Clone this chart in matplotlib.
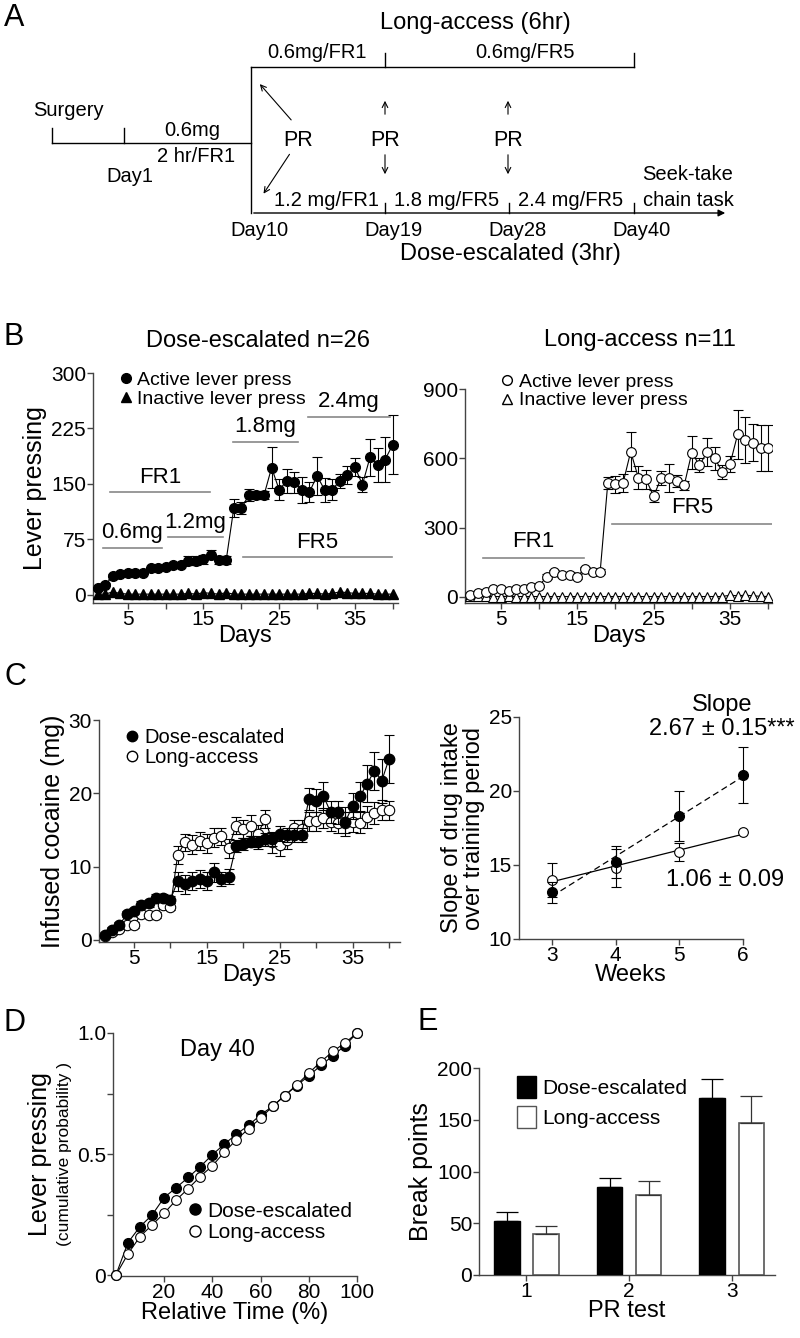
import numpy as np
import matplotlib.pyplot as plt
from matplotlib.lines import Line2D
from matplotlib.patches import Patch

plt.rcParams['font.family'] = ['Liberation Sans', 'DejaVu Sans']
plt.rcParams['axes.linewidth'] = 1.0
plt.rcParams['xtick.major.width'] = 1.0
plt.rcParams['ytick.major.width'] = 1.0

# ---------------- data ----------------
days = np.arange(1, 41)

# B left: dose-escalated lever presses
de_active = [9, 13.5, 25, 28, 30, 30, 30, 36, 37, 38, 40.5, 40.5, 46, 46, 48, 54, 47, 47,
             117, 117, 135, 135, 135, 172, 142, 154, 152, 142, 139, 161, 142, 142, 154, 162,
             173, 149, 186, 176, 183, 203]
de_active_err = [2, 2, 3, 2, 2, 2, 2, 2, 2, 2, 2, 2, 6, 6, 6, 6, 5, 5,
                 12, 8, 8, 6, 6, 28, 14, 16, 14, 18, 14, 26, 16, 14, 10, 12,
                 12, 10, 25, 23, 30, 40]
de_inactive = [1, 1, 4, 2, 1, 1, 1, 1, 1, 1, 1, 1, 2, 1, 3, 2, 1, 3,
               1, 1, 1, 1, 1, 1, 1, 1, 1, 1, 2, 2, 1, 2, 4, 3, 2, 2, 2, 1, 1, 1]

# B right: long-access lever presses
la_active = [9, 16, 23, 33, 33, 27, 33, 33, 45, 48, 88, 106, 96, 96, 88, 120, 110, 110,
             494, 487, 494, 629, 516, 509, 436, 516, 516, 501, 483, 625, 570, 627, 600,
             541, 574, 704, 680, 668, 646, 646]
la_active_err = [5] * 10 + [10] * 8 + [25, 35, 40, 83, 50, 40, 25, 30, 60, 25, 20, 70,
                                      30, 60, 50, 30, 35, 106, 100, 80, 100, 100]
la_inactive = [3, 4, 3, 2, 2, 3, 2, 2, 2, 2, 2, 2, 2, 2, 2, 2, 2, 2,
               2, 2, 2, 2, 2, 2, 2, 2, 2, 2, 2, 2, 2, 2, 2, 2, 8, 5, 8, 5, 3, 2]

# C left: infused cocaine (mg)
de_cocaine = [0.7, 1.4, 2.0, 3.5, 3.9, 4.8, 5.0, 5.7, 5.7, 5.5, 8.0, 7.6, 8.0, 8.3, 8.0,
              9.2, 8.3, 8.6, 12.8, 13.1, 13.4, 13.3, 13.7, 13.7, 14.5, 14.3, 14.3, 14.3,
              19.2, 19.0, 19.6, 17.4, 17.4, 16.1, 18.3, 19.6, 21.3, 23.1, 21.7, 24.7]
de_cocaine_err = [0.3, 0.3, 0.4, 0.4, 0.4, 0.5, 0.5, 0.5, 0.5, 0.5, 1.3, 1.3, 1.2, 1.2, 1.2,
                  1.3, 1.0, 1.0, 0.8, 0.8, 0.8, 0.9, 0.9, 0.9, 1.0, 1.0, 1.0, 1.0,
                  1.5, 1.6, 1.9, 1.5, 1.6, 2.0, 1.8, 2.0, 2.5, 2.6, 3.0, 3.3]
la_cocaine = [0.5, 1.0, 1.5, 2.0, 2.0, 3.5, 3.4, 3.4, 4.8, 4.5, 11.6, 13.3, 13.0, 13.5, 13.2,
              13.9, 14.1, 12.5, 15.6, 15.1, 15.6, 14.5, 16.5, 13.3, 13.0, 13.6, 15.2, 15.1,
              16.2, 16.2, 16.6, 16.1, 15.9, 16.0, 16.1, 16.0, 16.7, 17.3, 17.7, 17.7]
la_cocaine_err = [0.3, 0.3, 0.3, 0.4, 0.4, 0.4, 0.4, 0.4, 0.5, 0.5, 1.2, 1.2, 1.3, 1.2, 1.3,
                  1.3, 1.2, 1.3, 1.2, 1.2, 1.4, 1.2, 1.2, 1.4, 1.6, 1.2, 1.2, 1.2,
                  1.3, 1.3, 1.4, 1.3, 1.3, 1.4, 1.4, 1.4, 1.5, 1.5, 1.4, 1.3]

# C right: weekly slope
weeks = [3, 4, 5, 6]
de_slope = [13.15, 15.2, 18.3, 21.1]
de_slope_err = [0.7, 1.1, 1.7, 1.9]
la_slope = [14.0, 14.8, 15.9, 17.2]
la_slope_err = [1.15, 1.3, 0.6, 0.0]

# D: cumulative lever pressing, day 40
rel_time = np.arange(0, 101, 5)
de_cum = [0, 0.134, 0.2, 0.248, 0.32, 0.361, 0.403, 0.448, 0.497, 0.541, 0.582,
          0.618, 0.662, 0.697, 0.741, 0.783, 0.823, 0.866, 0.906, 0.948, 1.0]
la_cum = [0, 0.087, 0.159, 0.207, 0.255, 0.31, 0.357, 0.407, 0.451, 0.508, 0.559,
          0.604, 0.648, 0.697, 0.741, 0.786, 0.834, 0.881, 0.924, 0.959, 1.0]

# E: break points
pr_tests = [1, 2, 3]
de_bp = [52, 85, 171]
de_bp_err = [9, 9, 18]
la_bp = [40, 77, 147]
la_bp_err = [7, 14, 26]

# A: timeline positions (px) of the schedule days
tl_days = ['Day10', 'Day19', 'Day28', 'Day40']
tl_x = [251, 385, 509, 634]

# ---------------- figure ----------------
W, H = 800, 1338
fig = plt.figure(figsize=(W / 100, H / 100), dpi=100)


def px_axes(x0, y0, x1, y1):
    return fig.add_axes([x0 / W, 1 - y1 / H, (x1 - x0) / W, (y1 - y0) / H])


def style(ax):
    for s in ['top', 'right']:
        ax.spines[s].set_visible(False)
    for s in ['left', 'bottom']:
        ax.spines[s].set_color('#444444')
    ax.tick_params(direction='out', length=4, colors='#444444', labelcolor='black',
                   labelsize=15, pad=1)


def letter(x, y, s):
    fig.text(x / W, 1 - y / H, s, fontsize=22, ha='left', va='center')


# ---- panel A schematic ----
axA = fig.add_axes([0, 1 - 265 / H, 1, 265 / H])
axA.set_xlim(0, W)
axA.set_ylim(265, 0)
axA.axis('off')
letter(4, 18, 'A')
k = dict(color='black', lw=1)
axA.plot([tl_x[0], tl_x[3]], [67, 67], **k)
for x in tl_x[1:4:2]:
    axA.plot([x, x], [53, 67], **k)
axA.plot([tl_x[0], tl_x[0]], [67, 213], **k)
axA.plot([52, tl_x[0]], [143, 143], **k)
for x in [52, 124]:
    axA.plot([x, x], [128, 143], **k)
axA.annotate('', xy=(728, 213), xytext=(tl_x[0], 213),
             arrowprops=dict(arrowstyle='-|>', lw=1, color='black', mutation_scale=10))
for x in tl_x[1:]:
    axA.plot([x, x], [203, 213], **k)
tA = dict(fontsize=14.5, ha='center', va='center')
axA.text(475, 23, 'Long-access (6hr)', fontsize=17, ha='center', va='center')
axA.text(317, 53, '0.6mg/FR1', **tA)
axA.text(525, 53, '0.6mg/FR5', **tA)
axA.text(68, 110, 'Surgery', **tA)
axA.text(192, 130, '0.6mg', **tA)
axA.text(196, 157, '2 hr/FR1', **tA)
axA.text(130, 177, 'Day1', **tA)
for x in [298, 385, 508]:
    axA.text(x, 141, 'PR', fontsize=15.5, ha='center', va='center')
arr = dict(arrowstyle='->', lw=0.8, color='black')
axA.annotate('', xy=(258, 82), xytext=(293, 122), arrowprops=arr)
axA.annotate('', xy=(262, 196), xytext=(291, 152), arrowprops=arr)
for x in [385, 508]:
    axA.annotate('', xy=(x, 98), xytext=(x, 117), arrowprops=arr)
    axA.annotate('', xy=(x, 177), xytext=(x, 152), arrowprops=arr)
axA.text(326, 200, '1.2 mg/FR1', **tA)
axA.text(447, 200, '1.8 mg/FR5', **tA)
axA.text(571, 200, '2.4 mg/FR5', **tA)
axA.text(688, 175, 'Seek-take', **tA)
axA.text(688, 200, 'chain task', **tA)
for x, s in zip(tl_x, tl_days):
    axA.text(x + 8, 231, s, **tA)
axA.text(510, 254, 'Dose-escalated (3hr)', fontsize=17, ha='center', va='center')

# ---- panel B left ----
letter(4, 337, 'B')
axB1 = px_axes(93, 373, 398, 603)
style(axB1)
eb = dict(ecolor='black', elinewidth=0.8, capsize=3.5, capthick=0.8, color='black', lw=0.8)
axB1.errorbar(days, de_active, yerr=de_active_err, fmt='o', ms=7, mfc='black', mec='black',
              linestyle='-', zorder=3, **eb)
axB1.plot(days, de_inactive, '^-', color='black', ms=6.5, lw=0.8, zorder=3)
axB1.set_xlim(0.4, 40.7)
axB1.set_ylim(-11, 300)
axB1.set_yticks([0, 75, 150, 225, 300])
axB1.set_xticks(range(5, 41, 5))
axB1.set_xticklabels(['5', '', '15', '', '25', '', '35', ''])
axB1.set_xlabel('Days', fontsize=17, labelpad=-3)
axB1.set_ylabel('Lever pressing', fontsize=18, labelpad=3)
axB1.text(0.54, 1.14, 'Dose-escalated n=26', transform=axB1.transAxes, fontsize=17,
          ha='center', va='center')
gl = dict(color='#888888', lw=1.2)
for (d0, d1, y, lab) in [(2.6, 15.9, 139, 'FR1'), (1.7, 9.5, 63.5, '0.6mg'),
                         (10.3, 17.6, 78, '1.2mg'), (18.9, 27.5, 207, '1.8mg'),
                         (28.8, 39.7, 241, '2.4mg'), (20.2, 39.9, 51, 'FR5')]:
    axB1.plot([d0, d1], [y, y], **gl)
    axB1.text((d0 + d1) / 2, y + 6, lab, fontsize=16, ha='center', va='bottom')
leg1 = [Line2D([], [], marker='o', ls='', color='black', ms=7, label='Active lever press'),
        Line2D([], [], marker='^', ls='', color='black', ms=7, label='Inactive lever press')]
axB1.legend(handles=leg1, loc='upper left', bbox_to_anchor=(0.05, 1.04), frameon=False,
            fontsize=14, handletextpad=0.1, handlelength=1.0, labelspacing=0.05,
            borderaxespad=0)

# ---- panel B right ----
axB2 = px_axes(465, 389, 772, 603)
style(axB2)
axB2.errorbar(days, la_active, yerr=la_active_err, fmt='o', ms=7, mfc='white', mec='black',
              mew=0.8, linestyle='-', zorder=3, **eb)
axB2.plot(days, la_inactive, '^-', color='black', mfc='white', mew=0.8, ms=6.5, lw=0.8, zorder=3)
axB2.set_xlim(0.3, 40.5)
axB2.set_ylim(-26, 900)
axB2.set_yticks([0, 300, 600, 900])
axB2.set_xticks(range(5, 41, 5))
axB2.set_xticklabels(['5', '', '15', '', '25', '', '35', ''])
axB2.set_xlabel('Days', fontsize=17, labelpad=-3)
axB2.text(0.57, 1.23, 'Long-access n=11', transform=axB2.transAxes, fontsize=17,
          ha='center', va='center')
for (d0, d1, y, lab) in [(2.6, 15.9, 170, 'FR1'), (19.5, 40.5, 317, 'FR5')]:
    axB2.plot([d0, d1], [y, y], **gl)
    axB2.text((d0 + d1) / 2, y + 26, lab, fontsize=16, ha='center', va='bottom')
leg2 = [Line2D([], [], marker='o', ls='', color='black', mfc='white', ms=7, label='Active lever press'),
        Line2D([], [], marker='^', ls='', color='black', mfc='white', ms=7, label='Inactive lever press')]
axB2.legend(handles=leg2, loc='upper left', bbox_to_anchor=(0.08, 1.11), frameon=False,
            fontsize=14, handletextpad=0.1, handlelength=1.0, labelspacing=0.05,
            borderaxespad=0)

# ---- panel C left ----
letter(4, 677, 'C')
axC1 = px_axes(99, 720, 400, 942)
style(axC1)
axC1.errorbar(days, la_cocaine, yerr=la_cocaine_err, fmt='o', ms=7.5, mfc='white', mec='black',
              mew=0.8, linestyle='-', zorder=3, **eb)
axC1.errorbar(days, de_cocaine, yerr=de_cocaine_err, fmt='o', ms=7.5, mfc='black', mec='black',
              linestyle='-', zorder=4, **eb)
axC1.set_xlim(0.2, 41.5)
axC1.set_ylim(-0.3, 30)
axC1.set_yticks([0, 10, 20, 30])
axC1.set_xticks(range(5, 41, 5))
axC1.set_xticklabels(['5', '', '15', '', '25', '', '35', ''])
axC1.set_xlabel('Days', fontsize=17, labelpad=-3)
axC1.set_ylabel('Infused cocaine (mg)', fontsize=18, labelpad=3)
legC = [Line2D([], [], marker='o', ls='', color='black', ms=7.5, label='Dose-escalated'),
        Line2D([], [], marker='o', ls='', color='black', mfc='white', ms=7.5, label='Long-access')]
axC1.legend(handles=legC, loc='upper left', bbox_to_anchor=(0.05, 1.0), frameon=False,
            fontsize=14.5, handletextpad=0.1, handlelength=1.0, labelspacing=0.05,
            borderaxespad=0)

# ---- panel C right ----
axC2 = px_axes(519, 717, 743, 939)
style(axC2)
w = np.array(weeks, dtype=float)
p_de = np.polyfit(w, de_slope, 1)
p_la = np.polyfit(w, la_slope, 1)
axC2.plot(w, np.polyval(p_de, w), '--', color='black', lw=0.9, dashes=(5, 3))
axC2.plot(w, np.polyval(p_la, w), '-', color='black', lw=0.9)
axC2.errorbar(w, de_slope, yerr=de_slope_err, fmt='o', ms=7, mfc='black', mec='black',
              ecolor='black', elinewidth=0.8, capsize=3.5, capthick=0.8, zorder=4, clip_on=False)
axC2.errorbar(w, la_slope, yerr=la_slope_err, fmt='o', ms=7, mfc='white', mec='black', mew=0.8,
              ecolor='black', elinewidth=0.8, capsize=3.5, capthick=0.8, zorder=3, clip_on=False)
axC2.set_xlim(2.48, 6.0)
axC2.set_ylim(10, 25)
axC2.set_xticks(weeks)
axC2.set_yticks([10, 15, 20, 25])
axC2.set_xlabel('Weeks', fontsize=17, labelpad=-1)
axC2.set_ylabel('Slope of drug intake\nover training period', fontsize=17, labelpad=3,
                linespacing=1.0)
axC2.text(5.68, 25.8, 'Slope', fontsize=17, ha='center', va='center')
axC2.text(5.66, 24.2, '2.67 \u00b1 0.15***', fontsize=17, ha='center', va='center')
axC2.text(5.72, 14.0, '1.06 \u00b1 0.09', fontsize=17, ha='center', va='center')

# ---- panel D ----
letter(4, 1023, 'D')
axD = px_axes(113, 1033, 357, 1276)
style(axD)
axD.plot(rel_time, de_cum, 'o-', color='black', ms=7, lw=0.8, zorder=3, clip_on=False)
axD.plot(rel_time, la_cum, 'o-', color='black', mfc='white', mew=0.8, ms=7, lw=0.8, zorder=4,
         clip_on=False)
axD.set_xlim(-1.2, 100)
axD.set_ylim(-0.004, 1.0)
axD.set_xticks([20, 40, 60, 80, 100])
axD.set_yticks([0, 0.25, 0.5, 0.75, 1.0])
axD.set_yticklabels(['0', '', '0.5', '', '1.0'])
axD.set_xlabel('Relative Time (%)', fontsize=17, labelpad=0)
axD.text(-0.3, 0.5, 'Lever pressing', transform=axD.transAxes, rotation=90, fontsize=18,
         ha='center', va='center')
axD.text(-0.2, 0.5, '(cumulative probability )', transform=axD.transAxes, rotation=90,
         fontsize=12.5, ha='center', va='center')
axD.text(42, 0.93, 'Day 40', fontsize=17, ha='center', va='center')
legD = [Line2D([], [], marker='o', ls='', color='black', ms=8, label='Dose-escalated'),
        Line2D([], [], marker='o', ls='', color='black', mfc='white', ms=8, label='Long-access')]
axD.legend(handles=legD, loc='upper left', bbox_to_anchor=(0.26, 0.34), frameon=False,
           fontsize=15, handletextpad=0.1, handlelength=1.0, labelspacing=0.1,
           borderaxespad=0)

# ---- panel E ----
letter(418, 1022, 'E')
axE = px_axes(479, 1068, 775, 1275)
style(axE)
x = np.array(pr_tests, dtype=float)
bw = 0.25
axE.bar(x - 0.19, de_bp, bw, color='black', edgecolor='black', lw=1, zorder=3,
        yerr=[np.zeros(3), de_bp_err], error_kw=dict(ecolor='black', elinewidth=0.9,
                                                       capsize=8, capthick=0.9))
axE.bar(x + 0.19, la_bp, bw, color='white', edgecolor='#555555', lw=1.2, zorder=3,
        yerr=[np.zeros(3), la_bp_err], error_kw=dict(ecolor='#333333', elinewidth=0.9,
                                                      capsize=8, capthick=0.9))
axE.set_xlim(0.54, 3.42)
axE.set_ylim(0, 200)
axE.set_xticks(pr_tests)
axE.set_yticks([0, 50, 100, 150, 200])
axE.set_xlabel('PR test', fontsize=17, labelpad=-1)
axE.set_ylabel('Break points', fontsize=18, labelpad=3)
legE = [Patch(facecolor='black', edgecolor='black', label='Dose-escalated'),
        Patch(facecolor='white', edgecolor='#555555', label='Long-access')]
axE.legend(handles=legE, loc='upper left', bbox_to_anchor=(0.1, 1.0), frameon=False,
           fontsize=15, handletextpad=0.3, handlelength=0.9, handleheight=1.2,
           labelspacing=0.4, borderaxespad=0)

fig.savefig('out.png', dpi=100)
